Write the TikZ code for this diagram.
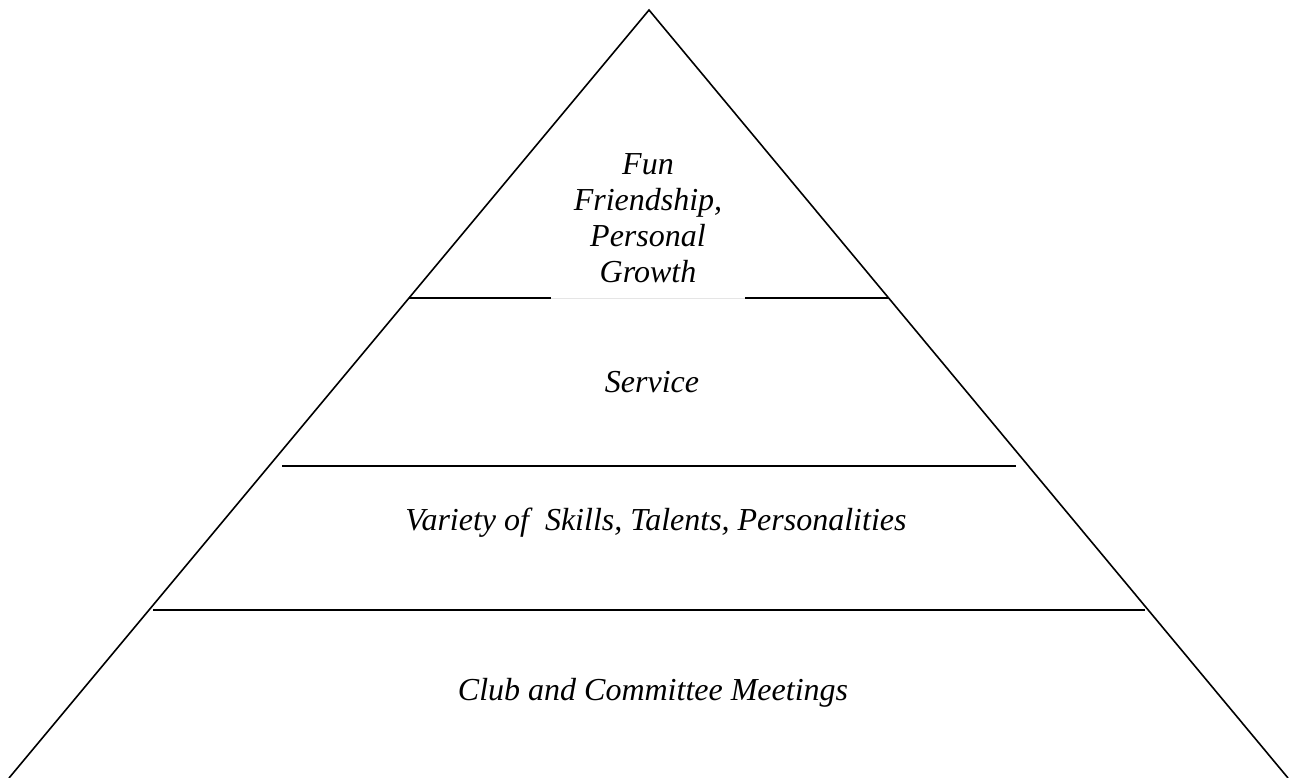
\documentclass[tikz,border=0pt]{standalone}
\usepackage{fontspec}
\setmainfont{Liberation Serif}
\begin{document}
\begin{tikzpicture}[x=1pt,y=-1pt,line width=1.6pt,
  level text/.style={font=\fontsize{32}{36}\selectfont\itshape,align=center,inner sep=0pt}]
  	\useasboundingbox (0,0) rectangle (1290,778);
  	
  	\coordinate (top) at (649,10);
  	\coordinate (bl) at (9,778);
  	\coordinate (br) at (1288,778);
  	
  	\coordinate (a1) at (409,298);
  	\coordinate (a2) at (551,298);
  	\coordinate (a3) at (745,298);
  	\coordinate (a4) at (889,298);
  	
  	\coordinate (b1) at (282,466);
  	\coordinate (b2) at (1016,466);
  	
  	\coordinate (c1) at (153,610);
  	\coordinate (c2) at (1145,610);
  	
  	\draw (bl) -- (top) -- (br);
  	
  	\path[-]
  	(a1) edge (a2)
  	(a3) edge (a4)
  	(b1) edge (b2)
  	(c1) edge (c2);
  	\draw[gray!20,line width=0.8pt] (a2) -- (a3);
  	
  	\node[level text] at (648,218) (peak) {Fun\\Friendship,\\Personal\\Growth};
  	\node[level text] at (652,382) (service) {Service};
  	\node[level text] at (656,523) (variety) {Variety of \ Skills, Talents, Personalities};
  	\node[level text] at (653,693) (meetings) {Club and Committee Meetings};
\end{tikzpicture}
\end{document}
